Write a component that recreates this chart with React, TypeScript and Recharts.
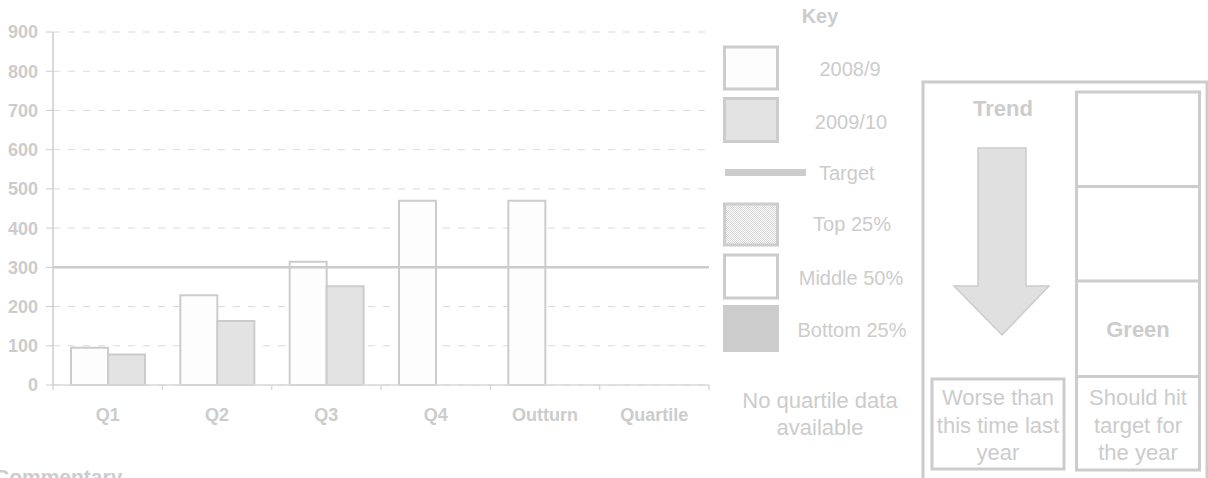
import React from 'react';
import { ComposedChart, Bar, XAxis, YAxis, CartesianGrid, ReferenceLine } from 'recharts';

const categories = ['Q1', 'Q2', 'Q3', 'Q4', 'Outturn', 'Quartile'];
const values2008 = [95, 229, 314, 470, 470, null];
const values2009 = [78, 163, 252, null, null, null];
const targetValue = 300;
const yTicks = [0, 100, 200, 300, 400, 500, 600, 700, 800, 900];

const keyLabels = ['2008/9', '2009/10', 'Target', 'Top 25%', 'Middle 50%', 'Bottom 25%'];
const noQuartileLines = ['No quartile data', 'available'];
const trendTitle = 'Trend';
const ragStatus = 'Green';
const trendLines = ['Worse than', 'this time last', 'year'];
const targetLines = ['Should hit', 'target for', 'the year'];
const commentaryTitle = 'Commentary';

const data = categories.map((c, i) => ({ category: c, y2008: values2008[i], y2009: values2009[i] }));

const GREY = '#cccccc';
const FONT = "'Liberation Sans', Arial, sans-serif";
const CHART_W = 720;
const CHART_H = 430;
const Y_W = 53;
const M_RIGHT = 11;
const BAND = (CHART_W - Y_W - M_RIGHT) / categories.length;

const XTick = (props: any) => {
  const { x, y, payload, index } = props;
  const isLast = index === categories.length - 1;
  return (
    <g>
      <line x1={x - BAND / 2} x2={x - BAND / 2} y1={y - 5} y2={y} stroke="#d9d9d9" strokeWidth={1.5} />
      {isLast && <line x1={x + BAND / 2} x2={x + BAND / 2} y1={y - 5} y2={y} stroke="#d9d9d9" strokeWidth={1.5} />}
      <text x={x} y={y + 31} textAnchor="middle" fill={GREY} fontSize={18} fontWeight={700} fontFamily={FONT}>
        {payload.value}
      </text>
    </g>
  );
};

const Overlay = () => {
  const t = { fill: GREY, fontFamily: FONT } as const;
  return (
    <svg width={1208} height={478} style={{ position: 'absolute', left: 0, top: 0, pointerEvents: 'none' }}>
      <defs>
        <pattern id="dots" width={2} height={2} patternUnits="userSpaceOnUse">
          <rect x={0} y={0} width={2} height={2} fill="#ffffff" />
          <rect x={0} y={0} width={1} height={1} fill="#d4d4d4" />
          <rect x={1} y={1} width={1} height={1} fill="#d4d4d4" />
        </pattern>
      </defs>
      {/* Key */}
      <text x={820} y={23} textAnchor="middle" fontSize={20} fontWeight={700} {...t}>Key</text>
      <rect x={724.5} y={47} width={53} height={42} fill="#fdfdfd" stroke={GREY} strokeWidth={3} />
      <text x={850} y={76} textAnchor="middle" fontSize={20} {...t}>{keyLabels[0]}</text>
      <rect x={724.5} y={98.5} width={53} height={43} fill="#e3e3e3" stroke={GREY} strokeWidth={3} />
      <text x={851} y={129} textAnchor="middle" fontSize={20} {...t}>{keyLabels[1]}</text>
      <rect x={725} y={169} width={81} height={7} fill={GREY} />
      <text x={819} y={180} textAnchor="start" fontSize={20} {...t}>{keyLabels[2]}</text>
      <rect x={724.5} y={204} width={53} height={41} fill="url(#dots)" stroke={GREY} strokeWidth={3} />
      <text x={852} y={231} textAnchor="middle" fontSize={20} {...t}>{keyLabels[3]}</text>
      <rect x={724.5} y={255} width={53} height={43} fill="#ffffff" stroke={GREY} strokeWidth={3} />
      <text x={851} y={285} textAnchor="middle" fontSize={20} {...t}>{keyLabels[4]}</text>
      <rect x={723} y={305} width={56} height={47} fill={GREY} />
      <text x={852} y={337} textAnchor="middle" fontSize={20} {...t}>{keyLabels[5]}</text>
      <text x={820} y={408} textAnchor="middle" fontSize={22} {...t}>{noQuartileLines[0]}</text>
      <text x={820} y={435} textAnchor="middle" fontSize={22} {...t}>{noQuartileLines[1]}</text>

      {/* Trend panel */}
      <rect x={923} y={82} width={284} height={420} fill="none" stroke={GREY} strokeWidth={3} />
      <text x={1003} y={116} textAnchor="middle" fontSize={22} fontWeight={700} {...t}>{trendTitle}</text>
      <polygon
        points="978,148 1026,148 1026,286 1049,286 1002,335 954,286 978,286"
        fill="#e0e0e0"
        stroke={GREY}
        strokeWidth={1.5}
      />
      <rect x={1076.5} y={92} width={123} height={378} fill="none" stroke={GREY} strokeWidth={3} />
      <line x1={1076} x2={1200} y1={186.5} y2={186.5} stroke={GREY} strokeWidth={3} />
      <line x1={1076} x2={1200} y1={281} y2={281} stroke={GREY} strokeWidth={3} />
      <line x1={1076} x2={1200} y1={376.5} y2={376.5} stroke={GREY} strokeWidth={3} />
      <text x={1138} y={337} textAnchor="middle" fontSize={22} fontWeight={700} {...t}>{ragStatus}</text>
      <rect x={932} y={379} width={132} height={90} fill="none" stroke={GREY} strokeWidth={3} />
      {trendLines.map((l, i) => (
        <text key={l} x={998} y={405 + i * 27.5} textAnchor="middle" fontSize={22} {...t}>{l}</text>
      ))}
      {targetLines.map((l, i) => (
        <text key={l} x={1138} y={405 + i * 27.5} textAnchor="middle" fontSize={22} {...t}>{l}</text>
      ))}

      {/* Commentary */}
      <text x={-6} y={484} textAnchor="start" fontSize={21} fontWeight={700} {...t}>{commentaryTitle}</text>
    </svg>
  );
};

export default function App() {
  return (
    <div style={{ position: 'absolute', left: 0, top: 0, width: 1208, height: 478, background: '#ffffff', fontFamily: FONT, overflow: 'hidden' }}>
      <div style={{ position: 'absolute', left: 0, top: 0 }}>
        <ComposedChart
          width={CHART_W}
          height={CHART_H}
          data={data}
          margin={{ top: 32, right: M_RIGHT, bottom: 0, left: 0 }}
          barCategoryGap={18}
          barGap={0}
        >
          <CartesianGrid vertical={false} stroke="#d9d9d9" strokeDasharray="7 8" />
          <XAxis
            dataKey="category"
            height={45}
            axisLine={{ stroke: '#d9d9d9', strokeWidth: 1.5 }}
            tickLine={false}
            tickSize={5}
            tickMargin={0}
            interval={0}
            tick={<XTick />}
          />
          <YAxis
            width={Y_W}
            domain={[0, 900]}
            ticks={yTicks}
            interval={0}
            axisLine={{ stroke: GREY, strokeWidth: 1.5 }}
            tickLine={{ stroke: GREY }}
            tickSize={7}
            tickMargin={8}
            tick={{ fill: GREY, fontSize: 18, fontWeight: 700, fontFamily: FONT }}
          />
          <Bar dataKey="y2008" fill="#fdfdfd" stroke={GREY} strokeWidth={2} isAnimationActive={false} />
          <Bar dataKey="y2009" fill="#e3e3e3" stroke={GREY} strokeWidth={2} isAnimationActive={false} />
          <ReferenceLine y={targetValue} stroke={GREY} strokeWidth={2.5} />
        </ComposedChart>
      </div>
      <Overlay />
    </div>
  );
}
